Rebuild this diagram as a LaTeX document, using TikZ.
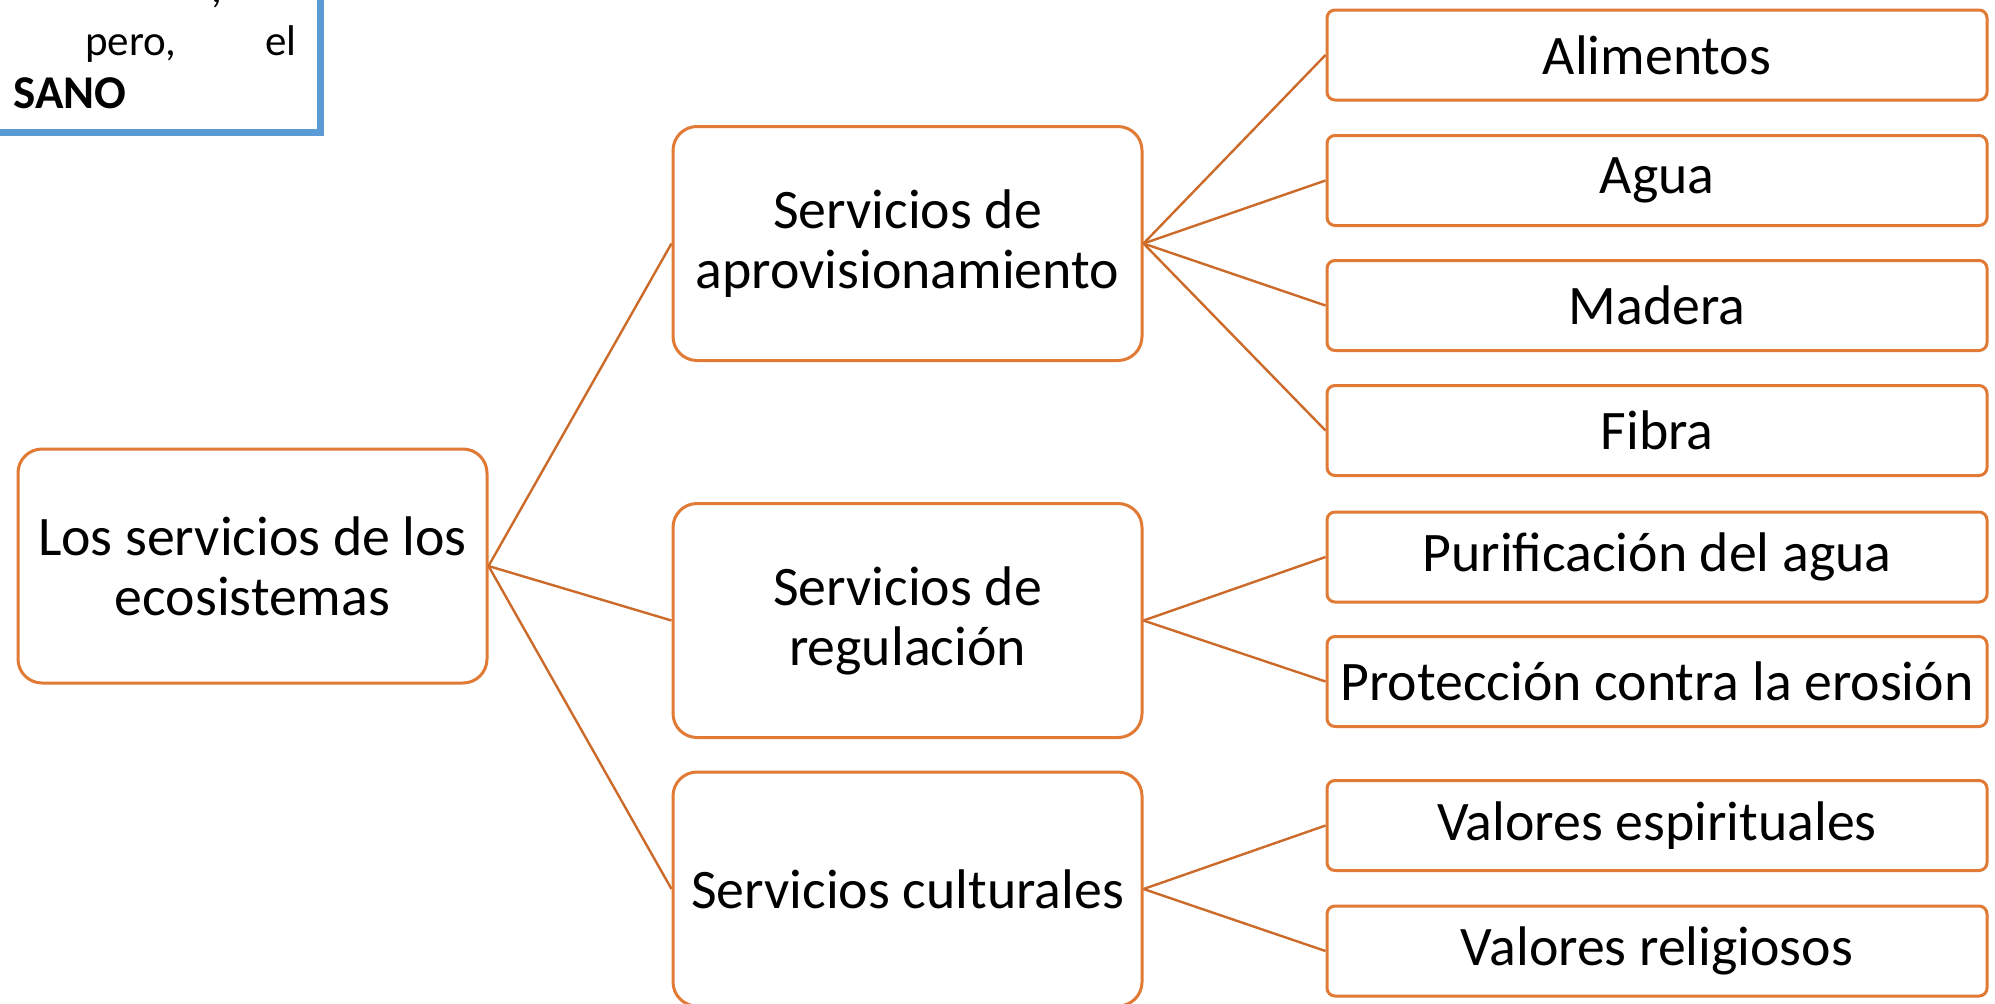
\documentclass[tikz,border=0pt]{standalone}
\usepackage{fontspec}
\setmainfont{Carlito}
\definecolor{naranja}{RGB}{224,122,53}
\definecolor{naranjaosc}{RGB}{204,106,42}
\definecolor{azul}{RGB}{91,155,213}
\tikzset{
	caja/.style={draw=naranja, line width=1.5pt, fill=white, align=center, inner sep=2pt,
		font=\fontsize{27.9}{30}\selectfont},
	raiz/.style={caja, rounded corners=12pt, minimum width=234.5pt, minimum height=117pt},
	hoja/.style={caja, rounded corners=4pt, minimum width=330pt, minimum height=45pt},
	enlace/.style={draw=naranjaosc, line width=1.2pt},
	nota/.style={inner sep=0pt, font=\fontsize{21.5}{26.5}\selectfont}
}
\begin{document}
\begin{tikzpicture}[x=0.5pt, y=-0.5pt]
		\useasboundingbox ( 0, 0 ) rectangle ( 1995, 1003 );

		% recuadro azul (cortado)
		\draw [azul, line width=3.5pt] ( -40, -40 ) rectangle ( 320, 132 );
		\node [nota, anchor=base east] (coma) at ( 223, 2 ) {,};
		\node [nota, anchor=base west] (pero) at ( 85, 55 ) {pero,};
		\node [nota, anchor=base east] (el) at ( 297, 55 ) {el};
		\node [nota, anchor=base west, font=\fontsize{23.5}{26.5}\selectfont\bfseries] (sano) at ( 13, 108 ) {SANO};

		% nivel 1
		\node [raiz] (servicios) at ( 252.5, 566 ) {Los servicios de los\\ecosistemas};

		% nivel 2
		\node [raiz] (aprov) at ( 907.5, 243.5 ) {Servicios de\\aprovisionamiento};
		\node [raiz] (regul) at ( 907.5, 620.5 ) {Servicios de\\regulación};
		\node [raiz] (cultur) at ( 907.5, 889 ) {Servicios culturales};

		% nivel 3
		\node [hoja] (alimentos) at ( 1657, 55 ) {Alimentos};
		\node [hoja] (agua) at ( 1657, 180.5 ) {Agua};
		\node [hoja] (madera) at ( 1657, 305.5 ) {Madera};
		\node [hoja] (fibra) at ( 1657, 430.5 ) {Fibra};
		\node [hoja] (purif) at ( 1657, 557 ) {Purificación del agua};
		\node [hoja] (proteccion) at ( 1657, 681.5 ) {Protección contra la erosión};
		\node [hoja] (espirit) at ( 1657, 825.5 ) {Valores espirituales};
		\node [hoja] (relig) at ( 1657, 951 ) {Valores religiosos};

		% enlaces
		\draw [enlace] (servicios.east) -- (aprov.west);
		\draw [enlace] (servicios.east) -- (regul.west);
		\draw [enlace] (servicios.east) -- (cultur.west);

		\draw [enlace] (aprov.east) -- (alimentos.west);
		\draw [enlace] (aprov.east) -- (agua.west);
		\draw [enlace] (aprov.east) -- (madera.west);
		\draw [enlace] (aprov.east) -- (fibra.west);

		\draw [enlace] (regul.east) -- (purif.west);
		\draw [enlace] (regul.east) -- (proteccion.west);

		\draw [enlace] (cultur.east) -- (espirit.west);
		\draw [enlace] (cultur.east) -- (relig.west);
	\end{tikzpicture}
\end{document}
